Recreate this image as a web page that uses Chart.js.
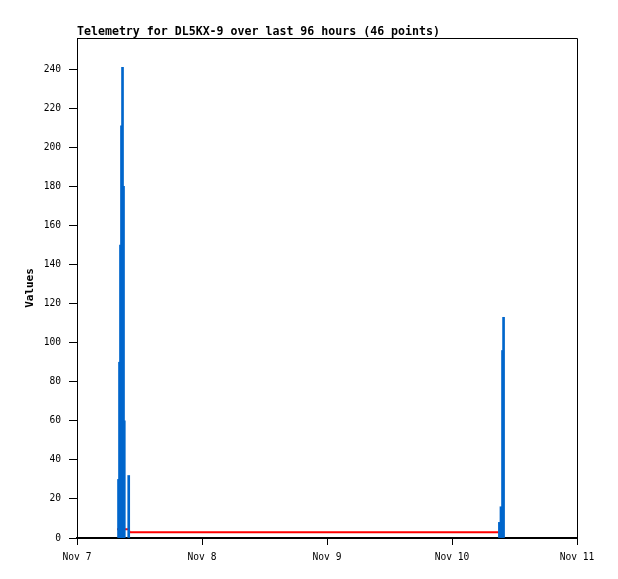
<!DOCTYPE html>
<html>
<head>
<meta charset="utf-8">
<script src="https://cdn.jsdelivr.net/npm/chart.js@4"></script>
<style>
html,body{margin:0;padding:0;background:#fff;}
#wrap{width:618px;height:579px;position:relative;}
</style>
</head>
<body>
<div id="wrap"><canvas id="c" width="618" height="579"></canvas></div>
<script>
// Hours since Nov 7 00:00
const dayLabels = ["Nov 7", "Nov 8", "Nov 9", "Nov 10", "Nov 11"];
const dayTickHours = [0, 24, 48, 72, 96];
const blueHours = [7.97, 8.16, 8.35, 8.54, 8.74, 8.93, 9.08, 9.93, 81.1, 81.4, 81.7, 81.9];
const blueValues = [30, 90, 150, 211, 241, 180, 60, 32, 8, 16, 96, 113];
const redHours = [7.68, 9.9, 10.1, 81.0];
const redValues = [4.5, 4.5, 3, 3];
const titleText = "Telemetry for DL5KX-9 over last 96 hours (46 points)";
const yTitle = "Values";

const mono = "'DejaVu Sans Mono', 'Liberation Mono', monospace";

const framePlugin = {
  id: 'frame',
  afterDraw(chart) {
    const {ctx, chartArea: a} = chart;
    ctx.save();
    ctx.strokeStyle = '#000';
    ctx.lineWidth = 1;
    ctx.beginPath();
    ctx.moveTo(a.left, a.top + 0.5);
    ctx.lineTo(a.right + 0.5, a.top + 0.5);
    ctx.lineTo(a.right + 0.5, a.bottom);
    ctx.stroke();
    ctx.fillStyle = '#000';
    ctx.font = "bold 11.6px " + mono;
    ctx.textAlign = 'left';
    ctx.textBaseline = 'alphabetic';
    ctx.fillText(titleText, a.left, 35);
    ctx.restore();
  }
};

new Chart(document.getElementById('c'), {
  type: 'bar',
  data: {
    datasets: [
      {
        type: 'line',
        data: redHours.map((h, i) => ({x: h, y: redValues[i]})),
        borderColor: '#ff0000',
        borderWidth: 2,
        pointRadius: 0,
        fill: false,
        order: 2
      },
      {
        type: 'bar',
        data: blueHours.map((h, i) => ({x: h, y: blueValues[i]})),
        backgroundColor: '#0066cc',
        barThickness: 2,
        grouped: false,
        order: 1
      }
    ]
  },
  options: {
    responsive: false,
    animation: false,
    layout: {padding: {left: 0, right: 41, top: 38, bottom: 0}},
    plugins: {legend: {display: false}, title: {display: false}, tooltip: {enabled: false}},
    scales: {
      x: {
        type: 'linear',
        min: 0, max: 96,
        offset: false,
        afterFit(s) { s.height = 41; },
        afterBuildTicks(s) { s.ticks = dayTickHours.map(v => ({value: v})); },
        ticks: {
          autoSkip: false,
          maxRotation: 0,
          padding: 7,
          color: '#000',
          font: {family: mono, size: 9.6},
          callback: v => dayLabels[dayTickHours.indexOf(v)]
        },
        grid: {display: true, offset: false, drawOnChartArea: false, tickLength: 7, color: '#000'},
        border: {display: true, color: '#000', width: 2}
      },
      y: {
        min: 0, max: 256,
        afterFit(s) { s.width = 77; },
        afterBuildTicks(s) { s.ticks = s.ticks.filter(t => t.value % 20 === 0); },
        ticks: {
          stepSize: 20,
          padding: 8,
          color: '#000',
          font: {family: mono, size: 9.6}
        },
        grid: {display: true, drawOnChartArea: false, tickLength: 8, color: '#000'},
        border: {display: true, color: '#000', width: 1},
        title: {
          display: true,
          text: yTitle,
          color: '#000',
          font: {family: mono, size: 11, weight: 'bold'},
          padding: {top: 24, bottom: 0}
        }
      }
    }
  },
  plugins: [framePlugin]
});
</script>
</body>
</html>
